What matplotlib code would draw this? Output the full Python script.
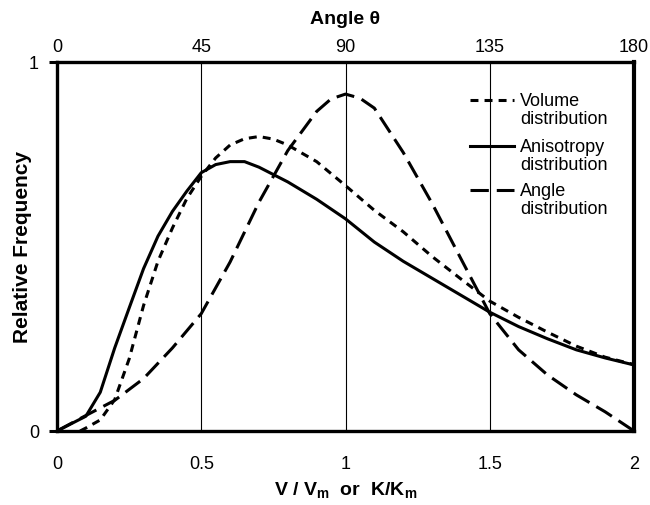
import matplotlib
matplotlib.use("Agg")
import matplotlib.pyplot as plt
from matplotlib.lines import Line2D

plt.rcParams['font.family'] = ['Liberation Sans', 'DejaVu Sans']
plt.rcParams['mathtext.fontset'] = 'custom'
plt.rcParams['mathtext.rm'] = 'Liberation Sans:bold'
plt.rcParams['mathtext.it'] = 'Liberation Sans:bold'
plt.rcParams['mathtext.bf'] = 'Liberation Sans:bold'

# ---- data ----
x_aniso = [0, 0.1, 0.15, 0.2, 0.25, 0.3, 0.35, 0.4, 0.45, 0.5, 0.55, 0.6, 0.65,
           0.7, 0.8, 0.9, 1.0, 1.1, 1.2, 1.3, 1.4, 1.5, 1.6, 1.7, 1.8, 1.9, 2.0]
y_aniso = [0, 0.04, 0.105, 0.225, 0.333, 0.44, 0.528, 0.595, 0.65, 0.70, 0.722,
           0.73, 0.73, 0.715, 0.675, 0.628, 0.575, 0.512, 0.46, 0.414, 0.368,
           0.322, 0.283, 0.25, 0.22, 0.198, 0.179]

x_vol = [0.08, 0.1, 0.15, 0.2, 0.25, 0.3, 0.35, 0.4, 0.45, 0.5, 0.55, 0.6, 0.65,
         0.7, 0.75, 0.8, 0.9, 1.0, 1.1, 1.2, 1.3, 1.4, 1.5, 1.6, 1.7, 1.8, 1.9, 2.0]
y_vol = [0, 0.008, 0.03, 0.085, 0.195, 0.34, 0.46, 0.55, 0.63, 0.69, 0.74, 0.775,
         0.792, 0.798, 0.791, 0.775, 0.73, 0.665, 0.598, 0.54, 0.473, 0.412,
         0.352, 0.308, 0.268, 0.23, 0.2, 0.18]

x_ang = [0, 0.1, 0.2, 0.3, 0.4, 0.5, 0.6, 0.7, 0.8, 0.9, 0.95, 1.0, 1.05, 1.1,
         1.2, 1.3, 1.4, 1.5, 1.6, 1.7, 1.8, 1.9, 2.0]
y_ang = [0, 0.042, 0.083, 0.142, 0.225, 0.318, 0.458, 0.62, 0.76, 0.866, 0.900,
         0.913, 0.902, 0.875, 0.755, 0.617, 0.467, 0.318, 0.22, 0.152, 0.098,
         0.052, 0.0]

x_ticks = [0, 0.5, 1, 1.5, 2]
x_tick_labels = ['0', '0.5', '1', '1.5', '2']
y_ticks = [0, 1]
angle_ticks = [0, 45, 90, 135, 180]

labels = ['Volume\ndistribution', 'Anisotropy\ndistribution', 'Angle\ndistribution']

# ---- figure ----
fig = plt.figure(figsize=(6.5, 5.06), dpi=100)
ax = fig.add_axes([57/650, 1-432/506, (634-57)/650, (432-63)/506])

lw = 2.2
short_dash = (2.6, 2.0)
long_dash = (6.0, 2.6)

for gx in [0.5, 1.0, 1.5]:
    ax.axvline(gx, color='black', lw=0.8, zorder=1)

ax.plot(x_vol, y_vol, color='black', lw=lw, dashes=short_dash, zorder=3)
ax.plot(x_aniso, y_aniso, color='black', lw=lw, solid_joinstyle='round', zorder=3)
ax.plot(x_ang, y_ang, color='black', lw=lw, dashes=long_dash, zorder=3)

ax.set_xlim(0, 2)
ax.set_ylim(0, 1)
ax.set_xticks(x_ticks)
ax.set_xticklabels(x_tick_labels)
ax.set_yticks(y_ticks)
ax.tick_params(axis='x', length=0, pad=17, labelsize=13)
ax.tick_params(axis='y', length=6, width=2.2, pad=7, labelsize=13, direction='out')
for s in ax.spines.values():
    s.set_linewidth(2.4)
ax.spines['right'].set_linewidth(3.0)

ax.set_xlabel('V / V$_{\\mathrm{m}}$  or  K/K$_{\\mathrm{m}}$', fontsize=14, fontweight='bold')
ax.xaxis.set_label_coords(0.5, -0.13)
ax.set_ylabel('Relative Frequency', fontsize=15, fontweight='bold')
ax.yaxis.set_label_coords(-0.043, 0.5)

secax = ax.secondary_xaxis('top', functions=(lambda v: v * 90, lambda a: a / 90))
secax.set_xticks(angle_ticks)
secax.tick_params(axis='x', length=0, pad=5, labelsize=13)
secax.set_xlabel('Angle θ', fontsize=14, fontweight='bold')
secax.xaxis.set_label_coords(0.5, 1.105, transform=ax.transAxes)

# legend (handles aligned with first text line, as in reference)
leg_styles = [dict(dashes=short_dash), dict(), dict(dashes=long_dash)]
leg_y = [0.897, 0.772, 0.652]
for lab, st, yy in zip(labels, leg_styles, leg_y):
    ax.add_line(Line2D([0.716, 0.792], [yy, yy], transform=ax.transAxes,
                       color='black', lw=lw, **st))
    ax.text(0.802, yy + 0.022, lab, transform=ax.transAxes, fontsize=13,
            va='top', ha='left', linespacing=1.05)

fig.savefig('out.png', dpi=100)
